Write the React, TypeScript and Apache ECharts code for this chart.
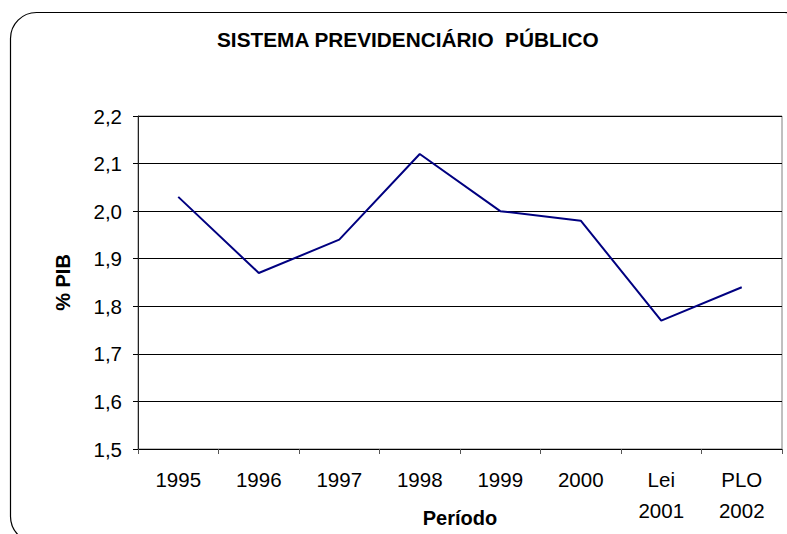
import React, { useEffect, useRef } from "react";
import * as echarts from "echarts";

const categories = ["1995", "1996", "1997", "1998", "1999", "2000", "Lei\n2001", "PLO\n2002"];
const pibValues = [2.03, 1.87, 1.94, 2.12, 2.0, 1.98, 1.77, 1.84];
const yMin = 1.5;
const yMax = 2.2;
const yStep = 0.1;

const FONT = "'Liberation Sans', Arial, sans-serif";

export default function App() {
  const ref = useRef<HTMLDivElement>(null);
  useEffect(() => {
    if (!ref.current) return;
    const chart = echarts.init(ref.current, null, { renderer: "svg" });
    chart.setOption({
      animation: false,
      backgroundColor: "#ffffff",
      textStyle: { fontFamily: FONT, color: "#000" },
      title: {
        text: "SISTEMA PREVIDENCIÁRIO  PÚBLICO",
        left: 217,
        top: 29,
        padding: 0,
        textStyle: { fontFamily: FONT, fontSize: 20.8, fontWeight: "bold", color: "#000" },
      },
      graphic: [
        {
          type: "rect",
          z: -10,
          shape: { x: 10.5, y: 12.5, width: 800, height: 530, r: 26 },
          style: { fill: "none", stroke: "#000", lineWidth: 1.2 },
        },
      ],
      grid: {
        left: 138,
        right: 5,
        top: 116,
        bottom: 85,
        outerBoundsMode: "none",
        containLabel: false,
        show: true,
        borderColor: "#808080",
        borderWidth: 1,
        backgroundColor: "transparent",
      },
      xAxis: {
        type: "category",
        data: categories,
        boundaryGap: true,
        name: "Período",
        nameLocation: "middle",
        nameGap: 59,
        nameMoveOverlap: false,
        nameTextStyle: { fontFamily: FONT, fontSize: 20, fontWeight: "bold", color: "#000" },
        axisLine: { show: true, lineStyle: { color: "#000", width: 1 } },
        axisTick: { show: true, length: 5, alignWithLabel: false, lineStyle: { color: "#555" } },
        axisLabel: {
          interval: 0,
          margin: 15,
          fontFamily: FONT,
          fontSize: 20.5,
          lineHeight: 31,
          color: "#000",
        },
        splitLine: { show: false },
      },
      yAxis: {
        type: "value",
        min: yMin,
        max: yMax,
        interval: yStep,
        name: "% PIB",
        nameLocation: "middle",
        nameRotate: 90,
        nameGap: 65,
        nameMoveOverlap: false,
        nameTextStyle: { fontFamily: FONT, fontSize: 20, fontWeight: "bold", color: "#000" },
        axisLine: { show: true, lineStyle: { color: "#222", width: 1 } },
        axisTick: { show: true, length: 5, lineStyle: { color: "#000" } },
        axisLabel: {
          margin: 16,
          fontFamily: FONT,
          fontSize: 20.5,
          color: "#000",
          formatter: (v: number) => v.toFixed(1).replace(".", ","),
        },
        splitLine: { show: true, lineStyle: { color: "#000", width: 1 } },
      },
      series: [
        {
          type: "line",
          data: pibValues,
          showSymbol: false,
          symbol: "none",
          lineStyle: { color: "#000080", width: 2 },
          itemStyle: { color: "#000080" },
        },
      ],
    });
    return () => chart.dispose();
  }, []);
  return (
    <div
      ref={ref}
      style={{ position: "fixed", left: 0, top: 0, width: 787, height: 534, background: "#fff" }}
    />
  );
}
